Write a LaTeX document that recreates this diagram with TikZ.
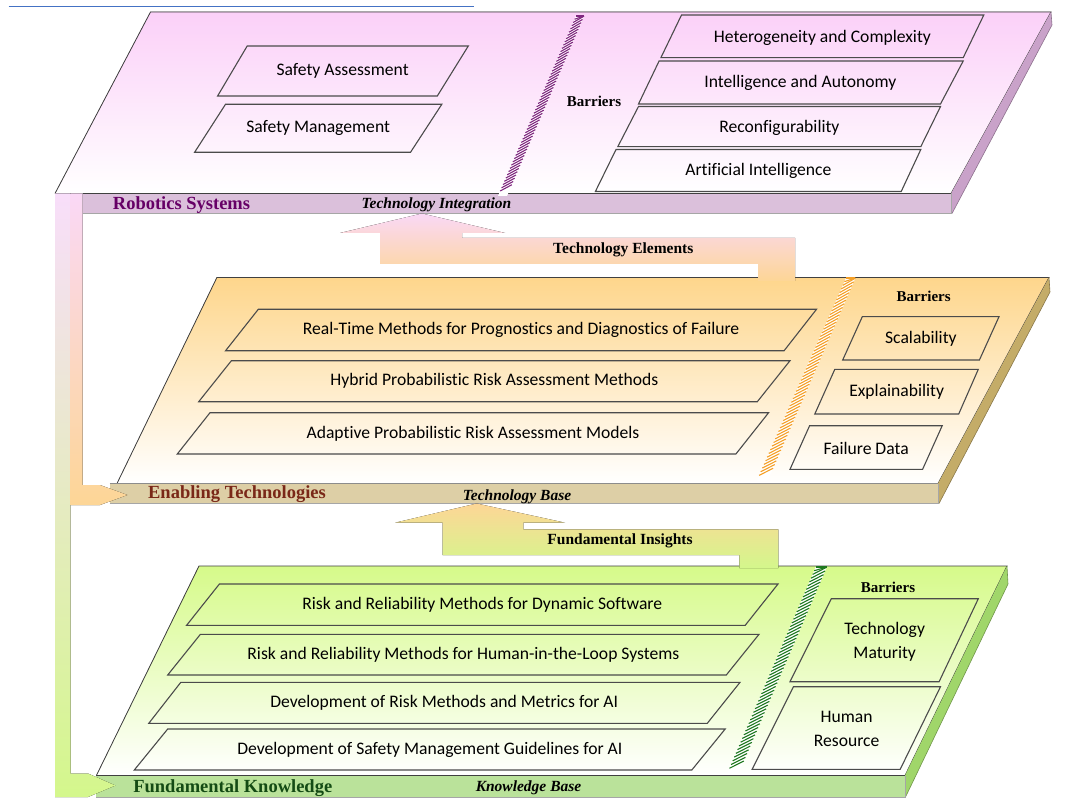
\documentclass[tikz,border=0pt]{standalone}
\usepackage{fontspec}
\setmainfont{Liberation Serif}
\newfontfamily\boxfont[Ligatures=NoCommon]{Carlito}
\usetikzlibrary{calc}
\definecolor{pinkT}{RGB}{251,208,248}
\definecolor{pinkBand}{RGB}{219,192,219}
\definecolor{pinkSide}{RGB}{201,162,201}
\definecolor{oranT}{RGB}{254,214,140}
\definecolor{oranBand}{RGB}{221,207,166}
\definecolor{oranSide}{RGB}{196,172,104}
\definecolor{greenT}{RGB}{214,250,138}
\definecolor{greenBand}{RGB}{186,226,154}
\definecolor{greenSide}{RGB}{160,214,106}
\definecolor{robC}{RGB}{102,0,102}
\definecolor{enC}{RGB}{122,40,24}
\definecolor{fkC}{RGB}{20,75,20}
\definecolor{hatchP}{RGB}{128,40,128}
\definecolor{hatchO}{RGB}{245,160,40}
\definecolor{hatchG}{RGB}{30,120,30}
\definecolor{lineBlue}{RGB}{68,114,196}
\definecolor{outl}{RGB}{75,75,75}
\definecolor{arPink}{RGB}{250,216,246}
\definecolor{arOran}{RGB}{253,214,150}
\definecolor{arGreen}{RGB}{212,247,140}
\definecolor{arPale}{RGB}{245,242,228}
\definecolor{arLav}{RGB}{248,222,250}
\tikzset{
  faceline/.style={draw=black!75, line width=0.8pt},
  bandline/.style={draw=black!35, line width=0.6pt},
  boxline/.style={draw=outl, line width=1.1pt},
  boxtxt/.style={font=\boxfont\fontsize{17.6}{23.5}\selectfont, align=center, inner sep=0pt},
  bartxt/.style={font=\bfseries\fontsize{15}{18}\selectfont, inner sep=0pt},
  bandlab/.style={font=\bfseries\fontsize{18.5}{20}\selectfont, inner sep=0pt},
  basetxt/.style={font=\bfseries\itshape\fontsize{15.5}{18}\selectfont, inner sep=0pt},
  arrtxt/.style={font=\bfseries\fontsize{15.5}{18}\selectfont, inner sep=0pt},
}
\newcommand\hatchstrip[5]{% color, TL, TR, BL, BR
  \fill[white] #2 -- #3 -- #5 -- #4 -- cycle;
  \foreach \t in {0,0.018,...,0.99}{
    \draw[#1, line width=1.1pt] ($#2!\t!#4$) -- ($#3!{max(\t-0.035,0)}!#5$);
  }
}
\begin{document}
\begin{tikzpicture}[x=1pt,y=-1pt]
\useasboundingbox (0,0) rectangle (1070,799);
\fill[white] (0,0) rectangle (1070,799);

\draw[lineBlue, line width=1pt] (8.6,6.7) -- (473.5,6.7);

% ===== Top layer =====
\fill[top color=pinkT, bottom color=white] (150.5,12) -- (1051,12) -- (951,193.5) -- (55,193.5) -- cycle;
\draw[faceline] (55,193.5) -- (150.5,12) -- (1051,12) -- (951,193.5);
\fill[pinkSide] (1051,12) -- (1052,25) -- (952,213.5) -- (951,193.5) -- cycle;
\draw[bandline, draw=pinkSide!70!black] (1051,12) -- (1052,25) -- (952,213.5);
\fill[pinkBand] (82.6,193.5) rectangle (951,213.5);
\draw[bandline] (82.6,213.5) -- (951,213.5) -- (951,193.5);
\draw[faceline] (82.6,193.5) -- (951,193.5);

\hatchstrip{hatchP}{(576,16)}{(584,16)}{(498,196)}{(507,196)}

\draw[boxline] (247.2,46) -- (468.3,46) -- (437.3,96) -- (217.6,96) -- cycle;
\draw[boxline] (225.5,104.3) -- (441.8,104.3) -- (410.5,152.3) -- (194.6,152.3) -- cycle;
\draw[boxline] (681.5,15) -- (983.8,15) -- (963.2,57.7) -- (660.9,57.7) -- cycle;
\draw[boxline] (659.1,61) -- (963.2,61) -- (940.5,104) -- (638.5,104) -- cycle;
\draw[boxline] (638.5,106.5) -- (940.5,106.5) -- (920.8,146.7) -- (617.8,146.7) -- cycle;
\draw[boxline] (616,149.5) -- (920.8,149.5) -- (901.2,191.5) -- (595.4,191.5) -- cycle;

\node[boxtxt] (sa) at (342.6,71) {Safety Assessment};
\node[boxtxt] (sm) at (318.1,128.3) {Safety Management};
\node[boxtxt] (hc) at (822.4,38) {Heterogeneity and Complexity};
\node[boxtxt] (ia) at (800.3,83) {Intelligence and Autonomy};
\node[boxtxt] (rc) at (779.4,127.5) {Reconfigurability};
\node[boxtxt] (ai) at (758.4,171) {Artificial Intelligence};
\node[bartxt] (bar1) at (594,101.5) {Barriers};

% ===== Middle layer =====
\fill[top color=oranT, bottom color=white] (216.9,277.5) -- (1049,277.5) -- (938,483.5) -- (117,483.5) -- cycle;
\draw[faceline] (117,483.5) -- (216.9,277.5) -- (1049,277.5) -- (938,483.5);
\fill[oranSide] (1049,277.5) -- (1050,292) -- (939,503.5) -- (938,483.5) -- cycle;
\draw[bandline, draw=oranSide!70!black] (1049,277.5) -- (1050,292) -- (939,503.5);
\fill[oranBand] (109.5,483.5) rectangle (938,503.5);
\draw[bandline] (109.5,503.5) -- (938,503.5) -- (938,483.5);
\draw[bandline, draw=black!45] (109.5,483.5) -- (938,483.5);

\hatchstrip{hatchO}{(846,278)}{(855.4,278)}{(756.6,481)}{(767.6,481)}

\draw[boxline] (258.3,309.3) -- (816.5,309.3) -- (784.1,350.7) -- (225.6,350.7) -- cycle;
\draw[boxline] (231.4,360.7) -- (790,360.7) -- (757.3,401.7) -- (198.7,401.7) -- cycle;
\draw[boxline] (210,412.7) -- (768.6,412.7) -- (735.9,454) -- (177.3,454) -- cycle;
\draw[boxline] (862.3,316.7) -- (999,316.7) -- (979.4,360) -- (842.7,360) -- cycle;
\draw[boxline] (834.8,369.3) -- (978.3,369.3) -- (958.7,414) -- (814.8,414) -- cycle;
\draw[boxline] (809.6,425.7) -- (942.2,425.7) -- (922.6,469.3) -- (790,469.3) -- cycle;

\node[boxtxt] (rt) at (521.1,330) {Real-Time Methods for Prognostics and Diagnostics of Failure};
\node[boxtxt] (hy) at (494.4,381.2) {Hybrid Probabilistic Risk Assessment Methods};
\node[boxtxt] (ad) at (473,433.4) {Adaptive Probabilistic Risk Assessment Models};
\node[boxtxt] (sc) at (920.9,339) {Scalability};
\node[boxtxt] (ex) at (896.7,392) {Explainability};
\node[boxtxt] (fd) at (866.1,448) {Failure Data};
\node[bartxt] (bar2) at (923.6,296) {Barriers};

% ===== Bottom layer =====
\fill[top color=greenT, bottom color=white] (199,566) -- (1007,566) -- (905,775.5) -- (96.4,775.5) -- cycle;
\draw[faceline] (96.4,775.5) -- (199,566) -- (1007,566) -- (905,775.5);
\fill[greenSide] (1007,566) -- (1008,584) -- (905.5,797) -- (905,775.5) -- cycle;
\draw[bandline, draw=greenSide!70!black] (1007,566) -- (1008,584) -- (905.5,797);
\fill[greenBand] (96.4,775.5) rectangle (905,797);
\draw[bandline] (96.4,797) -- (905,797) -- (905,775.5);
\draw[faceline] (96.4,775.5) -- (905,775.5);

\hatchstrip{hatchG}{(815.8,567)}{(826.8,567)}{(727,774)}{(738.3,774)}

\draw[boxline] (219.4,584) -- (778,584) -- (745.2,625.3) -- (186.6,625.3) -- cycle;
\draw[boxline] (200.4,634.3) -- (759,634.3) -- (726.3,675) -- (167.7,675) -- cycle;
\draw[boxline] (180.8,682.3) -- (740,682.3) -- (707.3,723.3) -- (148.8,723.3) -- cycle;
\draw[boxline] (167.7,729) -- (725.2,729) -- (691.8,770) -- (134.3,770) -- cycle;
\draw[boxline] (831.3,598.7) -- (978.3,598.7) -- (939.1,681.7) -- (790,681.7) -- cycle;
\draw[boxline] (793.4,686.7) -- (940.5,686.7) -- (900.2,769.3) -- (752.1,769.3) -- cycle;

\node[boxtxt] (rd) at (482.3,605) {Risk and Reliability Methods for Dynamic Software};
\node[boxtxt] (rh) at (463.4,655) {Risk and Reliability Methods for Human-in-the-Loop Systems};
\node[boxtxt] (dr) at (444.2,703) {Development of Risk Methods and Metrics for AI};
\node[boxtxt] (ds) at (429.8,749.5) {Development of Safety Management Guidelines for AI};
\node[boxtxt] (tm) at (884.7,642) {Technology\\Maturity};
\node[boxtxt] (hr) at (846.6,729) {Human\\Resource};
\node[bartxt] (bar3) at (888,587.3) {Barriers};

% ===== Arrows =====
\fill[top color=arPink, bottom color=arOran]
  (795,281) -- (795,238) -- (462,238) -- (462,233) -- (505,233) -- (422,213.5)
  -- (340,233) -- (380,233) -- (380,264) -- (758,264) -- (758,281) -- cycle;
\fill[top color=arOran, bottom color=arGreen]
  (778.3,568) -- (778.3,529.3) -- (523.3,529.3) -- (523.3,522.7) -- (565,522.7) -- (476.7,503.5)
  -- (395,522.7) -- (442.7,522.7) -- (442.7,555) -- (739.3,555) -- (739.3,568) -- cycle;
\fill[top color=arLav, middle color=arPale, bottom color=arGreen]
  (55,193.5) -- (70.6,193.5) -- (70.6,773.5) -- (88,773.5) -- (115.4,785.5) -- (88,797) -- (55,797) -- cycle;
\fill[top color=arPink, bottom color=arOran]
  (70.6,193.5) -- (82.6,193.5) -- (82.6,485) -- (100,485) -- (127.4,495) -- (100,505) -- (70.6,505) -- cycle;

\node[arrtxt] (te) at (623.3,250) {Technology Elements};
\node[arrtxt] (fi) at (620,541) {Fundamental Insights};

% ===== Band labels =====
\node[bandlab, text=robC] (rs) at (181.5,205) {Robotics Systems};
\node[basetxt] (ti) at (436.5,205) {Technology Integration};
\node[bandlab, text=enC] (et) at (237,494.5) {Enabling Technologies};
\node[basetxt] (tb) at (517,497) {Technology Base};
\node[bandlab, text=fkC] (fk) at (232.8,788) {Fundamental Knowledge};
\node[basetxt] (kb) at (528.5,788) {Knowledge Base};
\end{tikzpicture}
\end{document}
